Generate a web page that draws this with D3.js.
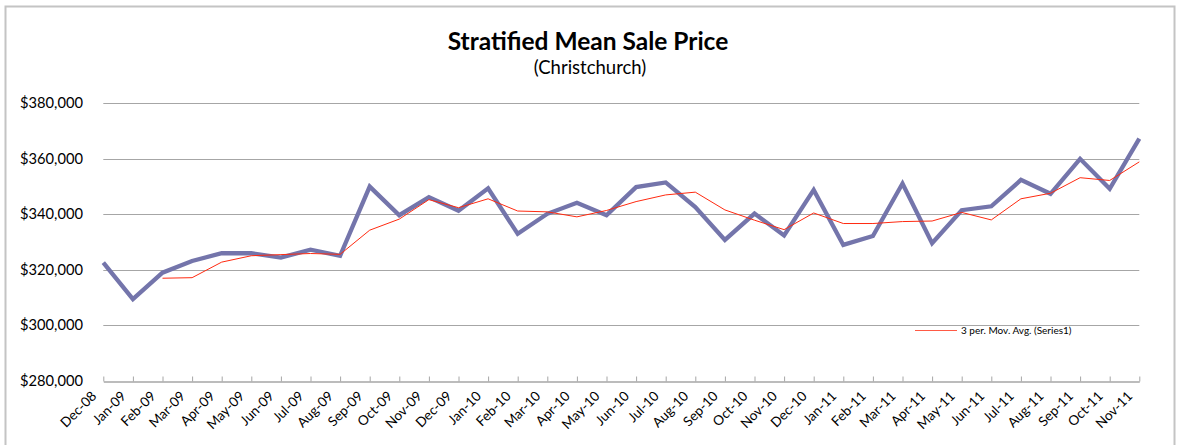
<!DOCTYPE html>
<html>
<head>
<meta charset="utf-8">
<script src="https://cdn.jsdelivr.net/npm/d3@7"></script>
<style>
  body { margin: 0; background: #fff; }
  svg text { font-family: Lato, "Open Sans", sans-serif; fill: #000; }
</style>
</head>
<body>
<svg id="chart"></svg>
<script>
var width = 1185, height = 445;

// month labels along the x axis
var months = [
  "Dec-08", "Jan-09", "Feb-09", "Mar-09", "Apr-09", "May-09", "Jun-09", "Jul-09",
  "Aug-09", "Sep-09", "Oct-09", "Nov-09", "Dec-09", "Jan-10", "Feb-10", "Mar-10",
  "Apr-10", "May-10", "Jun-10", "Jul-10", "Aug-10", "Sep-10", "Oct-10", "Nov-10",
  "Dec-10", "Jan-11", "Feb-11", "Mar-11", "Apr-11", "May-11", "Jun-11", "Jul-11",
  "Aug-11", "Sep-11", "Oct-11", "Nov-11"
];

// stratified mean sale price
var salePrice = [
  322500, 309400, 318900, 323100, 325900, 325900, 324300, 327200,
  325000, 349900, 339600, 346100, 341200, 349300, 332900, 340100,
  344100, 339600, 349700, 351400, 342500, 330700, 340200, 332300,
  348700, 328900, 332100, 351000, 329500, 341400, 342800, 352300,
  347300, 359900, 349100, 367200
];

// 3 period moving average trendline, starts at Feb-09
var movAvg = [
  null, null, 316900, 317100, 322700, 325000, 325400, 325800,
  325500, 334200, 338200, 345200, 342300, 345500, 341100, 340800,
  339000, 341300, 344500, 346900, 347900, 341500, 337800, 334400,
  340400, 336600, 336600, 337300, 337500, 340600, 337900, 345500,
  347500, 353100, 352100, 358800
];

var yTicks = [280000, 300000, 320000, 340000, 360000, 380000];

var svg = d3.select("#chart")
    .attr("width", width)
    .attr("height", height);

// outer frame
svg.append("rect")
    .attr("x", 5.5)
    .attr("y", 6.5)
    .attr("width", 1169)
    .attr("height", 460)
    .attr("fill", "none")
    .attr("stroke", "#c4c4c4")
    .attr("stroke-width", 2);

var x = d3.scalePoint()
    .domain(months)
    .range([103.3, 1139.3]);

var y = d3.scaleLinear()
    .domain([280000, 380000])
    .range([380.7, 103]);

// gridlines
svg.append("g")
    .selectAll("line")
    .data(yTicks.slice(1))
    .enter().append("line")
    .attr("x1", x.range()[0])
    .attr("x2", x.range()[1])
    .attr("y1", function(d) { return Math.round(y(d)) + 0.5; })
    .attr("y2", function(d) { return Math.round(y(d)) + 0.5; })
    .attr("stroke", "#a6a6a6")
    .attr("stroke-width", 1);

// y labels
var fmt = d3.format("$,");
svg.append("g")
    .selectAll("text")
    .data(yTicks)
    .enter().append("text")
    .attr("x", 83)
    .attr("y", function(d) { return y(d); })
    .attr("dy", "0.35em")
    .attr("text-anchor", "end")
    .style("font-size", "14.7px")
    .text(function(d) { return fmt(d); });

// x axis with inward ticks
var xAxis = d3.axisBottom(x)
    .tickSizeInner(-5)
    .tickSizeOuter(0)
    .tickFormat("");

var xg = svg.append("g")
    .attr("transform", "translate(0," + (Math.round(y(280000)) + 0.5) + ")")
    .call(xAxis);
xg.select(".domain").attr("stroke", "#a6a6a6").attr("stroke-width", 1.5);
xg.selectAll(".tick line").attr("stroke", "#a6a6a6");

svg.append("g")
    .selectAll("text")
    .data(months)
    .enter().append("text")
    .attr("text-anchor", "end")
    .attr("transform", function(d) {
        return "translate(" + (x(d) - 6) + "," + 397 + ") rotate(-45)";
    })
    .style("font-size", "13.5px")
    .text(function(d) { return d; });

// lines
var line = d3.line()
    .defined(function(d) { return d.v != null; })
    .x(function(d) { return x(d.m); })
    .y(function(d) { return y(d.v); });

svg.append("path")
    .datum(months.map(function(m, i) { return {m: m, v: salePrice[i]}; }))
    .attr("d", line)
    .attr("fill", "none")
    .attr("stroke", "#7475ab")
    .attr("stroke-width", 4.3)
    .attr("stroke-linejoin", "miter");

svg.append("path")
    .datum(months.map(function(m, i) { return {m: m, v: movAvg[i]}; }))
    .attr("d", line)
    .attr("fill", "none")
    .attr("stroke", "#ff2a10")
    .attr("stroke-width", 1);

// legend
var legend = svg.append("g").attr("transform", "translate(915,330)");
legend.append("line")
    .attr("x1", 0).attr("x2", 42)
    .attr("y1", 0.5).attr("y2", 0.5)
    .attr("stroke", "#ff5a45")
    .attr("stroke-width", 1);
legend.append("text")
    .attr("x", 46)
    .attr("y", 0)
    .attr("dy", "0.35em")
    .style("font-size", "10px")
    .text("3 per. Mov. Avg. (Series1)");

// titles
svg.append("text")
    .attr("x", 588)
    .attr("y", 50)
    .attr("text-anchor", "middle")
    .style("font-size", "24.5px")
    .style("font-weight", "bold")
    .text("Stratified Mean Sale Price");

svg.append("text")
    .attr("x", 590)
    .attr("y", 74)
    .attr("text-anchor", "middle")
    .style("font-size", "18.5px")
    .text("(Christchurch)");
</script>
</body>
</html>
